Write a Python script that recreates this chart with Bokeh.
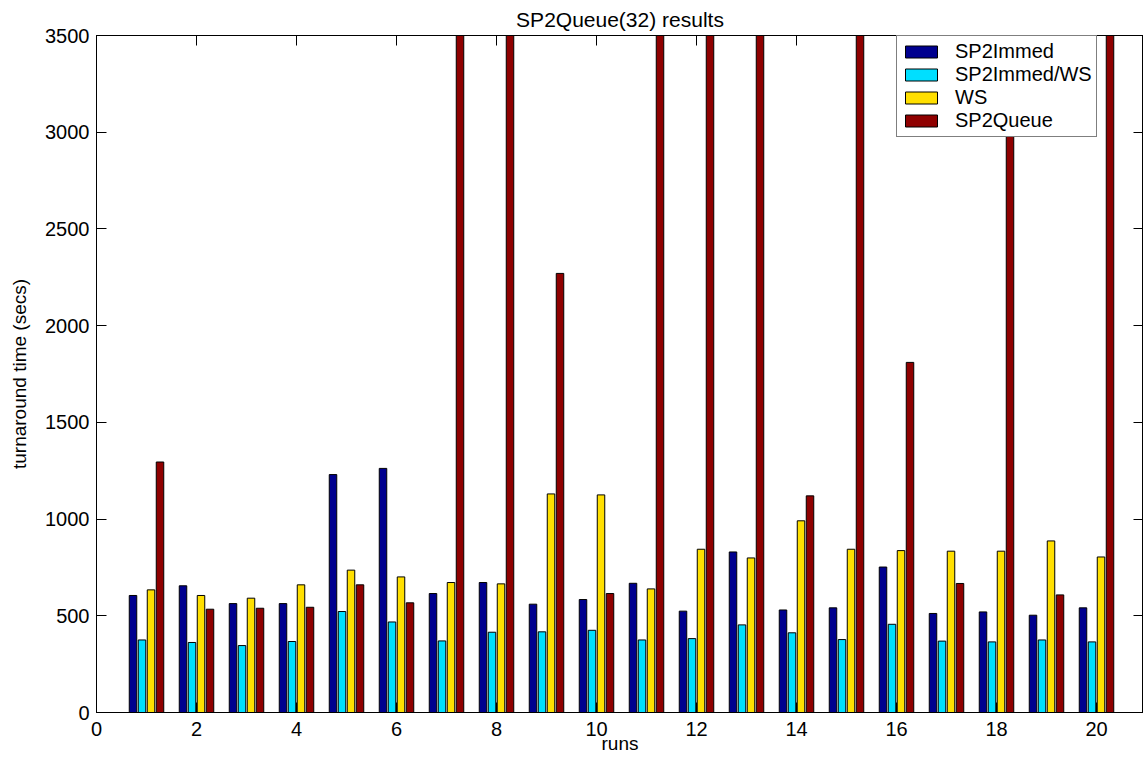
from bokeh.plotting import figure
from bokeh.models import (Range1d, LinearAxis, FixedTicker, Legend, LegendItem,
                          ColumnDataSource, CustomJSTickFormatter)
from bokeh.transform import dodge
from bokeh.embed import file_html
from bokeh.resources import INLINE

runs = list(range(1, 21))
sp2immed = [605, 655, 563, 563, 1230, 1262, 615, 672, 560, 584, 668, 524, 830, 530, 541, 752, 512, 520, 503, 541]
sp2immed_ws = [375, 362, 346, 367, 522, 468, 370, 415, 417, 425, 375, 382, 453, 412, 377, 456, 369, 365, 375, 365]
ws = [634, 605, 591, 660, 736, 701, 672, 665, 1130, 1125, 639, 844, 799, 991, 844, 837, 834, 834, 887, 804]
sp2queue = [1295, 534, 539, 544, 660, 567, 4000, 4000, 2270, 615, 4000, 4000, 4000, 1120, 4000, 1810, 667, 4000, 608, 4000]

series_names = ["SP2Immed", "SP2Immed/WS", "WS", "SP2Queue"]
colors = ["#00008F", "#00DFFF", "#FFDF00", "#8F0000"]
offsets = [-0.27, -0.09, 0.09, 0.27]
x_ticks = list(range(0, 21, 2))
y_ticks = list(range(0, 3501, 500))

src = ColumnDataSource(dict(runs=runs, s0=sp2immed, s1=sp2immed_ws, s2=ws, s3=sp2queue))

FONT = "Liberation Sans"

p = figure(width=1143, height=765, output_backend="svg", toolbar_location=None,
           x_range=Range1d(0, 20.94), y_range=Range1d(0, 3500),
           title="SP2Queue(32) results",
           min_border_left=96, min_border_right=0, min_border_top=35, min_border_bottom=53)
p.background_fill_color = "white"
p.border_fill_color = "white"
p.xgrid.visible = False
p.ygrid.visible = False
p.outline_line_color = "black"
p.outline_line_width = 1

p.title.align = "center"
p.title.text_font = FONT
p.title.text_font_size = "21px"
p.title.text_font_style = "normal"
p.title.text_color = "black"
p.title.offset = 0
p.title.standoff = 10

renderers = []
for i, (name, c, off) in enumerate(zip(series_names, colors, offsets)):
    r = p.vbar(x=dodge("runs", off, range=p.x_range), top="s%d" % i, width=0.15, bottom=0,
               source=src, fill_color=c, line_color="black", line_width=1)
    renderers.append(r)

for ax in (p.xaxis[0], p.yaxis[0]):
    ax.major_tick_in = 10
    ax.major_tick_out = 0
    ax.minor_tick_in = 0
    ax.minor_tick_out = 0
    ax.major_label_text_font = FONT
    ax.major_label_text_font_size = "20px"
    ax.major_label_text_color = "black"
    ax.axis_label_text_font = FONT
    ax.axis_label_text_font_size = "19px"
    ax.axis_label_text_font_style = "normal"
    ax.axis_label_text_color = "black"
    ax.axis_line_color = "black"
    ax.major_tick_line_color = "black"

p.xaxis[0].ticker = FixedTicker(ticks=x_ticks)
p.yaxis[0].ticker = FixedTicker(ticks=y_ticks)
p.xaxis[0].axis_label = "runs"
p.yaxis[0].axis_label = "turnaround time (secs)"
p.xaxis[0].major_label_standoff = 9
p.yaxis[0].major_label_standoff = 7
p.xaxis[0].axis_label_standoff = -6
p.yaxis[0].axis_label_standoff = 12

top_ax = LinearAxis(ticker=FixedTicker(ticks=x_ticks), formatter=CustomJSTickFormatter(code="return ''"),
                    major_tick_in=10, major_tick_out=0,
                    minor_tick_in=0, minor_tick_out=0, major_label_standoff=0,
                    axis_line_color="black", major_tick_line_color="black")
right_ax = LinearAxis(ticker=FixedTicker(ticks=y_ticks), formatter=CustomJSTickFormatter(code="return ''"),
                      major_tick_in=10, major_tick_out=0,
                      minor_tick_in=0, minor_tick_out=0, major_label_standoff=0,
                      axis_line_color="black", major_tick_line_color="black")
p.add_layout(top_ax, "above")
p.add_layout(right_ax, "right")

legend = Legend(items=[LegendItem(label=n, renderers=[r]) for n, r in zip(series_names, renderers)],
                location=(800, 575))
legend.glyph_width = 40
legend.glyph_height = 15
legend.label_height = 15
legend.spacing = 0
legend.padding = 4
legend.margin = 0
legend.label_standoff = 14
legend.label_text_font = FONT
legend.label_text_font_size = "20px"
legend.label_text_color = "black"
legend.border_line_color = "black"
legend.border_line_width = 1
legend.background_fill_color = "white"
legend.background_fill_alpha = 1
p.add_layout(legend)

open("out.html", "w").write(file_html(p, INLINE))
